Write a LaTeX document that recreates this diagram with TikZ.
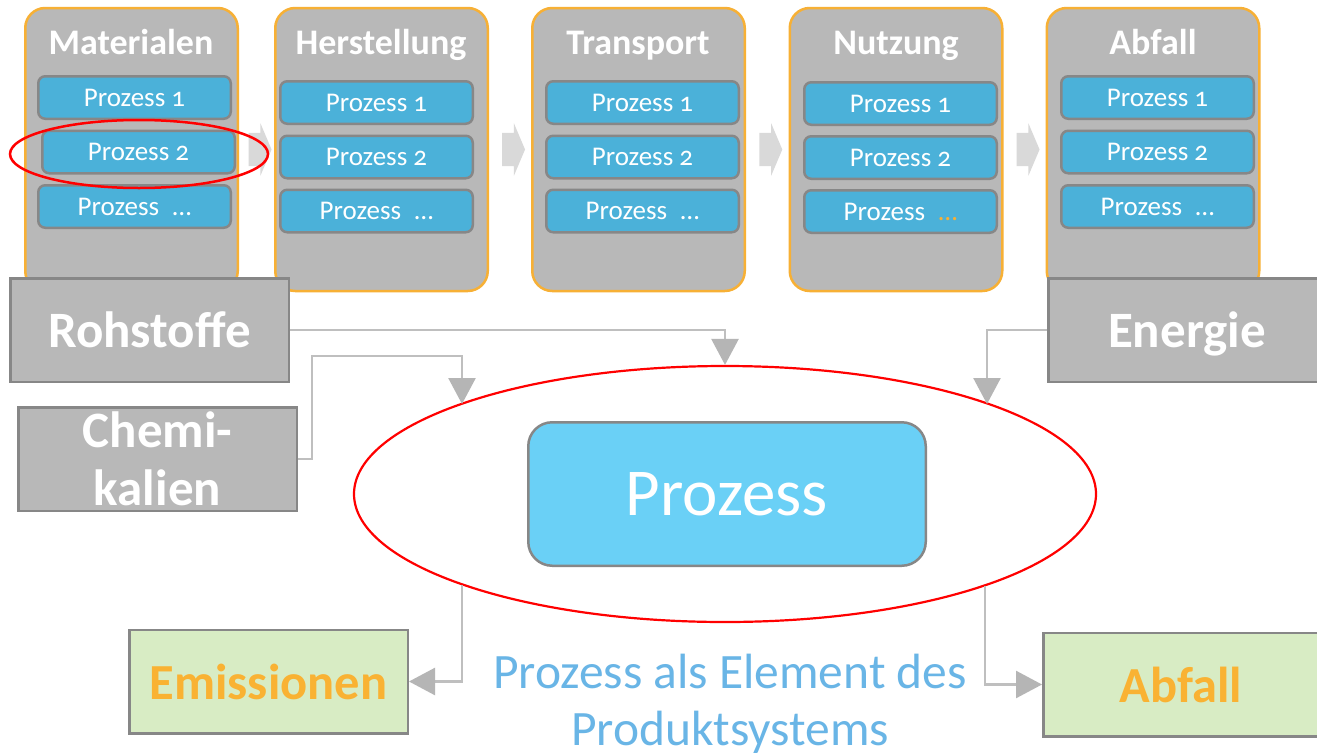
\documentclass[tikz,border=0pt]{standalone}
\usepackage{fontspec}
\setmainfont{Carlito}[Numbers=OldStyle]
\usetikzlibrary{shapes.geometric,shapes.arrows,arrows.meta,calc}

\definecolor{stagegray}{HTML}{B8B8B8}
\definecolor{stageorange}{HTML}{F7B035}
\definecolor{subblue}{HTML}{4BB1D9}
\definecolor{boxborder}{HTML}{878787}
\definecolor{chevgray}{HTML}{D9D9D9}
\definecolor{linegray}{HTML}{BFBFBF}
\definecolor{tipgray}{HTML}{B5B5B5}
\definecolor{procblue}{HTML}{6AD0F6}
\definecolor{greenfill}{HTML}{D8ECC4}
\definecolor{orangetext}{HTML}{F9B233}
\definecolor{captionblue}{HTML}{69B5E6}
\definecolor{ringred}{HTML}{FF0000}

\tikzset{
  stage/.style={draw=stageorange, line width=2.5pt, fill=stagegray,
    rounded corners=20pt, minimum width=212.5pt, minimum height=283pt, inner sep=0pt},
  stagetitle/.style={anchor=base, text=white, inner sep=0pt,
    font=\bfseries\fontsize{36}{40}\selectfont},
  substep/.style={draw=boxborder, line width=2.5pt, fill=subblue,
    rounded corners=7pt, minimum width=192.5pt, minimum height=42.5pt, inner sep=0pt,
    text=white, font=\fontsize{27}{30}\selectfont},
  chevron/.style={single arrow, fill=chevgray, draw=none, inner xsep=0pt,
    inner ysep=16.5pt, minimum height=23pt, single arrow head extend=9.5pt,
    single arrow tip angle=134},
  flowbox/.style={draw=boxborder, line width=2.5pt, fill=stagegray, inner sep=0pt,
    minimum width=278.5pt, minimum height=103.5pt, text=white, align=center,
    font=\bfseries\fontsize{51}{58}\selectfont},
  outbox/.style={draw=boxborder, line width=2.5pt, fill=greenfill, inner sep=0pt,
    minimum height=103.5pt, text=orangetext,
    font=\bfseries\fontsize{50.5}{58}\selectfont},
  conn/.style={draw=linegray, line width=2.5pt,
    -{Triangle[width=27pt,length=26pt,color=tipgray]}},
  ring/.style={ellipse, draw=ringred, line width=2.2pt, inner sep=0pt},
}

\begin{document}
\begin{tikzpicture}[x=1pt,y=-1pt]
\useasboundingbox (0,0) rectangle (1317,755);
\clip (0,0) rectangle (1317,755);
\fill[white] (0,0) rectangle (1317,755);

% life-cycle stages
\node[stage] (s1) at (131.5,149.5) {};
\node[stage] (s2) at (381.5,149.5) {};
\node[stage] (s3) at (638.5,149.5) {};
\node[stage] (s4) at (896,149.5) {};
\node[stage] (s5) at (1153,149.5) {};

\node[stagetitle] (t1) at (131,54) {Materialen};
\node[stagetitle] (t2) at (381,54) {Herstellung};
\node[stagetitle] (t3) at (638,54) {Transport};
\node[stagetitle] (t4) at (896,54) {Nutzung};
\node[stagetitle] (t5) at (1153,54) {Abfall};

% arrows between the stages
\node[chevron] (c1) at ($(s1.east)!0.5!(s2.west)$) {};
\node[chevron] (c2) at ($(s2.east)!0.5!(s3.west)$) {};
\node[chevron] (c3) at ($(s3.east)!0.5!(s4.west)$) {};
\node[chevron] (c4) at ($(s4.east)!0.5!(s5.west)$) {};

% processes inside each stage
\node[substep] (m1) at (134.5,97.5) {Prozess 1};
\node[substep] (m2) at (138.5,152) {Prozess 2};
\node[substep] (m3) at (134.5,206.5) {Prozess\hspace{0.5em}…};

\node[substep] (h1) at (376.5,102.5) {Prozess 1};
\node[substep] (h2) at (376.5,157) {Prozess 2};
\node[substep] (h3) at (376.5,211) {Prozess\hspace{0.5em}…};

\node[substep] (r1) at (642.5,102.5) {Prozess 1};
\node[substep] (r2) at (642.5,157) {Prozess 2};
\node[substep] (r3) at (642.5,211) {Prozess\hspace{0.5em}…};

\node[substep] (n1) at (900.5,103.5) {Prozess 1};
\node[substep] (n2) at (900.5,157.5) {Prozess 2};
\node[substep] (n3) at (900.5,211.5) {Prozess\hspace{0.5em}\textcolor{stageorange}{…}};

\node[substep] (a1) at (1157.5,97.5) {Prozess 1};
\node[substep] (a2) at (1157.5,152) {Prozess 2};
\node[substep] (a3) at (1157.5,206.5) {Prozess\hspace{0.5em}…};

% inputs
\node[flowbox] (roh) at (149.5,330) {Rohstoffe};
\node[flowbox] (chem) at (157.5,459) {Chemi-\\kalien};
\node[flowbox, minimum width=277pt, text depth=0pt] (energy) at (1187,330) {Energie};

% single process, highlighted
\node[ring, fill=white, minimum width=742pt, minimum height=256pt] (big) at (725,494) {};
\coordinate (chemIn)   at ($(big.center)+(-263,-90)$);
\coordinate (energyIn) at ($(big.center)+(262,-90)$);
\coordinate (emisOut)  at ($(big.center)+(-263,91)$);
\coordinate (wasteOut) at ($(big.center)+(260,92)$);

\draw[conn] (roh.east) -| (big.north);
\draw[conn] (chem.east) -- ++(14,0) |- ($(chemIn)+(0,-48)$) -- (chemIn);
\draw[conn] (energy.west) -| (energyIn);

\node[draw=boxborder, line width=2.5pt, fill=procblue, rounded corners=24pt,
  minimum width=397.5pt, minimum height=143.5pt, inner sep=0pt, text=white,
  font=\fontsize{67}{70}\selectfont] (proc) at (727,494) {Prozess};

% outputs
\node[outbox, minimum width=278.5pt] (emis) at (268.5,681.5) {Emissionen};
\node[outbox, minimum width=275.5pt] (waste) at (1181,684.5) {Abfall};

\draw[conn] (emisOut) |- (emis.east);
\draw[conn] (wasteOut) |- (waste.west);

\node[anchor=base, align=center, text=captionblue, inner sep=0pt,
  font=\fontsize{49.5}{57}\selectfont] (caption) at (730,745)
  {Prozess als Element des\\Produktsystems};

% marks the selected process
\node[ring, line width=2.5pt, minimum width=258pt, minimum height=68pt] (focus) at (139,154) {};
\end{tikzpicture}
\end{document}
